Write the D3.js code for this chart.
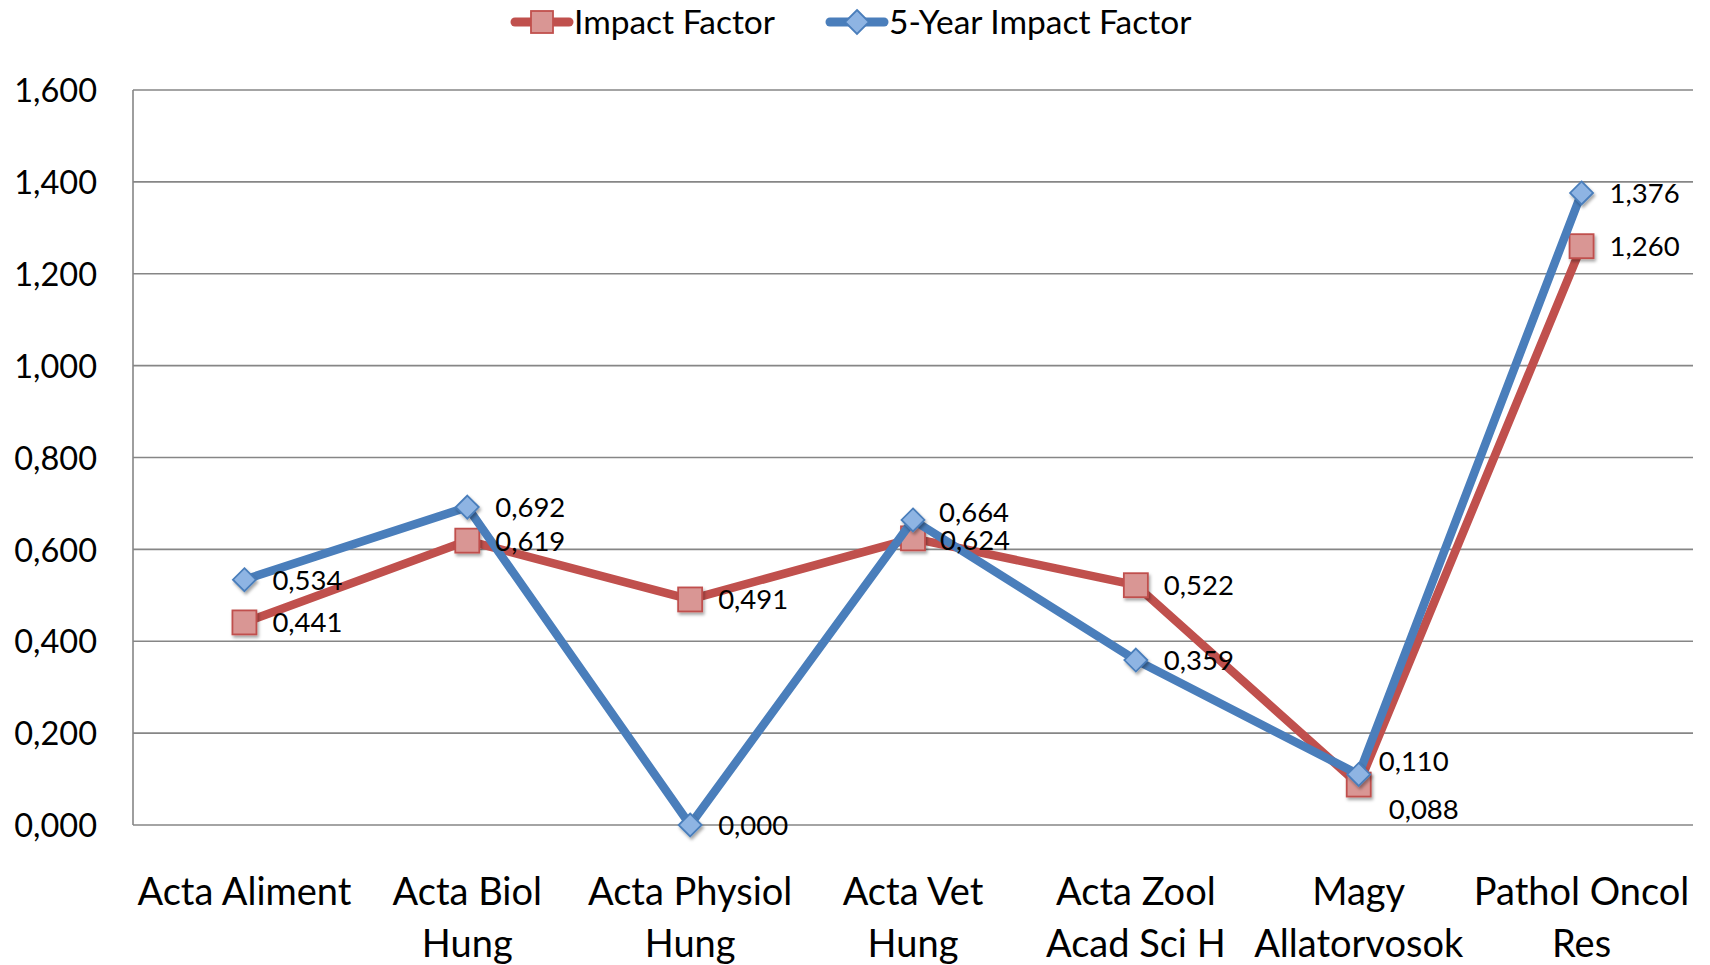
<!DOCTYPE html>
<html><head><meta charset="utf-8">
<script src="https://cdn.jsdelivr.net/npm/d3@7"></script>
<style>html,body{margin:0;padding:0;background:#fff;}svg{display:block;font-family:Lato,"Open Sans",sans-serif;}</style>
</head><body>
<svg id="chart" width="1710" height="965"></svg>
<script>
const categories = [["Acta Aliment"],["Acta Biol","Hung"],["Acta Physiol","Hung"],["Acta Vet","Hung"],["Acta Zool","Acad Sci H"],["Magy","Allatorvosok"],["Pathol Oncol","Res"]];
const impactFactor = [0.441, 0.619, 0.491, 0.624, 0.522, 0.088, 1.260];
const fiveYearIF = [0.534, 0.692, 0.000, 0.664, 0.359, 0.110, 1.376];
const yTicks = [0, 0.2, 0.4, 0.6, 0.8, 1.0, 1.2, 1.4, 1.6];
const seriesNames = ["Impact Factor", "5-Year Impact Factor"];

const fmt = v => d3.format(".3f")(v).replace(".", ",");
const svg = d3.select("#chart");
const m = {left:133, right:1693, top:90, bottom:825};
const x = d3.scaleBand().domain(d3.range(categories.length)).range([m.left, m.right]);
const y = d3.scaleLinear().domain([0, 1.6]).range([m.bottom, m.top]);
const cx = i => x(i) + x.bandwidth()/2;

const defs = svg.append("defs");
const f = defs.append("filter").attr("id","sh").attr("x","-50%").attr("y","-50%").attr("width","200%").attr("height","200%");
f.append("feDropShadow").attr("dx",1.5).attr("dy",2.5).attr("stdDeviation",1.8).attr("flood-color","#000").attr("flood-opacity",0.35);

// gridlines
svg.append("g").selectAll("line").data(yTicks).join("line")
  .attr("x1", m.left).attr("x2", m.right).attr("y1", d=>y(d)).attr("y2", d=>y(d))
  .attr("stroke", "#868686").attr("stroke-width", 1.6);
svg.append("line").attr("x1",m.left).attr("x2",m.left).attr("y1",m.top).attr("y2",m.bottom).attr("stroke","#868686").attr("stroke-width",1.6);

// y axis labels
const yAxis = d3.axisLeft(y).tickValues(yTicks).tickSize(0).tickPadding(36).tickFormat(d => d3.format(".3f")(d).replace(".", ","));
const ga = svg.append("g").attr("transform", `translate(${m.left},0)`).call(yAxis);
ga.select(".domain").remove();
ga.selectAll("text").attr("font-size", 32.5).attr("font-family","Lato,sans-serif").attr("fill","#000").attr("dy","0.36em");

// x labels
const gx = svg.append("g");
categories.forEach((lines, i) => {
  const t = gx.append("text").attr("text-anchor","middle").attr("font-size",38).attr("fill","#000");
  lines.forEach((l, j) => t.append("tspan").attr("x", cx(i)).attr("y", 905 + j*52).text(l));
});

const red = "#C0504D", redFill = "#D99694", blue = "#4A7EBB", blueFill = "#8EB4E3";
const line = d3.line().x((d,i)=>cx(i)).y(d=>y(d));

function drawSeries(vals, color, fill, shape) {
  svg.append("path").datum(vals).attr("d", line).attr("fill","none").attr("stroke",color)
    .attr("stroke-width",8.5).attr("stroke-linejoin","round");
  const g = svg.append("g").attr("filter","url(#sh)");
  vals.forEach((v,i) => {
    if (shape === "square") {
      g.append("rect").attr("x", cx(i)-12).attr("y", y(v)-12).attr("width",24).attr("height",24)
        .attr("fill",fill).attr("stroke",color).attr("stroke-width",1.8);
    } else {
      const s = 11.5;
      g.append("path").attr("d", `M${cx(i)},${y(v)-s}L${cx(i)+s},${y(v)}L${cx(i)},${y(v)+s}L${cx(i)-s},${y(v)}Z`)
        .attr("fill",fill).attr("stroke",color).attr("stroke-width",1.8);
    }
  });
}
drawSeries(impactFactor, red, redFill, "square");
drawSeries(fiveYearIF, blue, blueFill, "diamond");

// data labels (right of points; small nudges to avoid overlap)
const nudgeIF = {3:[27,2], 5:[30,25]};
const nudge5Y = {3:[26,-8], 5:[20,-13]};
function labels(vals, nudge) {
  vals.forEach((v,i) => {
    const n = nudge[i] || [28,0];
    svg.append("text").attr("x", cx(i)+n[0]).attr("y", y(v)+n[1]).attr("dy","0.36em")
      .attr("font-size",27.5).attr("fill","#000").text(fmt(v));
  });
}
labels(impactFactor, nudgeIF);
labels(fiveYearIF, nudge5Y);

// legend
const leg = svg.append("g");
function legendItem(x0, color, fill, shape, name) {
  leg.append("line").attr("x1",x0).attr("x2",x0+54).attr("y1",22).attr("y2",22).attr("stroke",color).attr("stroke-width",9).attr("stroke-linecap","round");
  const c = x0+27;
  if (shape==="square") leg.append("rect").attr("x",c-11).attr("y",11).attr("width",22).attr("height",22).attr("fill",fill).attr("stroke",color).attr("stroke-width",1.8);
  else leg.append("path").attr("d",`M${c},10L${c+12},22L${c},34L${c-12},22Z`).attr("fill",fill).attr("stroke",color).attr("stroke-width",1.8);
  leg.append("text").attr("x",x0+59).attr("y",22).attr("dy","0.36em").attr("font-size",33.5).attr("fill","#000").text(name);
}
legendItem(515, red, redFill, "square", seriesNames[0]);
legendItem(830, blue, blueFill, "diamond", seriesNames[1]);
</script>
</body></html>
